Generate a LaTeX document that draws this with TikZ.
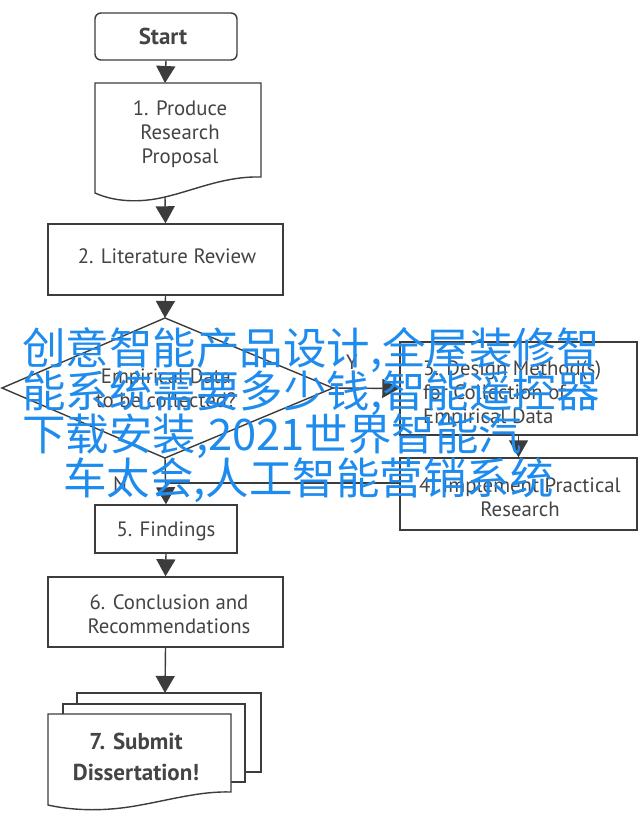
\documentclass[tikz,border=0pt]{standalone}
\usepackage{fontspec}
\setmainfont{PT Sans}
\newfontfamily\cjk{Noto Sans CJK SC}
\usetikzlibrary{arrows.meta,calc}
\definecolor{ln}{RGB}{60,60,60}
\definecolor{tx}{RGB}{68,68,68}
\definecolor{wm}{RGB}{30,140,238}
\tikzset{
  box/.style={draw=ln,line width=1.4bp,fill=white,inner sep=0pt},
  lbl/.style={text=tx,font=\fontsize{20.8bp}{24bp}\selectfont,align=center,inner sep=0pt},
  bld/.style={text=tx,font=\bfseries\fontsize{23bp}{31bp}\selectfont,align=center,inner sep=0pt},
  conn/.style={draw=ln,line width=1.4bp,-{Triangle[width=19bp,length=17bp]}},
  plain/.style={draw=ln,line width=1.4bp},
  wmtext/.style={text=wm,font=\cjk\fontsize{43.5bp}{44bp}\selectfont,anchor=base west,inner sep=0pt}
}
\begin{document}
\begin{tikzpicture}[x=1bp,y=-1bp]
\useasboundingbox (0,0) rectangle (640,814);
\fill[white] (0,0) rectangle (640,814);
% Start
\node[box,rounded corners=6bp,minimum width=142bp,minimum height=47bp] (start) at (166,36.5) {};
\node[bld] (starttxt) at (163,36) {Start};
% Box 1 document
\draw[plain,fill=white] (95,83) -- (261,83) -- (261,177)
  .. controls (225,176) and (195,190) .. (165,197)
  .. controls (140,203) and (115,202) .. (95,193) -- cycle;
\coordinate (p1top) at (165,83);
\coordinate (p1bot) at (165,197);
\node[lbl] (p1) at (180,134) {1. Produce\\Research\\Proposal};
% Box 2
\node[box,minimum width=235bp,minimum height=71bp] (b2) at (165.5,259.5) {};
\node[lbl] (b2txt) at (167,256) {2. Literature Review};
% Diamond
\coordinate (dt) at (165,318);
\coordinate (dl) at (2,388);
\coordinate (dr) at (333,388);
\coordinate (db) at (165,458);
\draw[plain,fill=white] (dt) -- (dr) -- (db) -- (dl) -- cycle;
\node[lbl] (dtxt) at (166,388) {Empirical Data\\to be collected?};
% Box 3
\node[box,minimum width=237bp,minimum height=93bp] (b3) at (518.5,388.5) {};
\node[lbl,align=left,anchor=west] (b3txt) at (423,394) {3. Design Method(s)\\for Collection of\\Empirical Data};
% Box 4
\node[box,minimum width=237bp,minimum height=72bp] (b4) at (518.5,494) {};
\node[lbl] (b4txt) at (520,497) {4. Implement Practical\\Research};
% Box 5
\node[box,minimum width=142bp,minimum height=48bp] (b5) at (166,529) {};
\node[lbl] (b5txt) at (166,531) {5. Findings};
% Box 6
\node[box,minimum width=235bp,minimum height=70bp] (b6) at (165.5,612) {};
\node[lbl] (b6txt) at (169,614) {6. Conclusion and\\Recommendations};
% Stacked documents
\draw[plain,fill=white] (77,693) rectangle (261,772);
\draw[plain,fill=white] (63,704) rectangle (245,782);
\draw[plain,fill=white] (48,714) -- (231,714) -- (231,792)
  .. controls (200,791) and (170,800) .. (135,806)
  .. controls (100,812) and (70,810) .. (48,805) -- cycle;
\coordinate (dtop) at (165,693);
\node[bld] (b7txt) at (136,757) {7. Submit\\Dissertation!};
% Connectors
\draw[conn] (start.south) -- (p1top);
\draw[conn] (p1bot) -- (b2.north);
\draw[conn] (b2.south) -- (dt);
\draw[conn] (dr) -- (b3.west);
\draw[conn] (b3.south) -- (b4.north);
\draw[conn] (db) -- (b5.north);
\coordinate (j4) at (400,483);
\coordinate (jm) at (165,483);
\draw[plain] (j4) -- (jm);
\draw[conn] (b5.south) -- (b6.north);
\draw[conn] (b6.south) -- (dtop);
\node[lbl] (ylab) at (352,362) {Y};
\node[lbl] (nlab) at (120,484) {N};
% Watermark text
\node[wmtext] (w1) at (22,364) {创意智能产品设计,全屋装修智};
\node[wmtext] (w2) at (22,407) {能系统需要多少钱,智能遥控器};
\node[wmtext] (w3) at (22,450) {下载安装,2021世界智能汽};
\node[wmtext] (w4) at (63,494) {车太会,人工智能营销系统};
\end{tikzpicture}
\end{document}
